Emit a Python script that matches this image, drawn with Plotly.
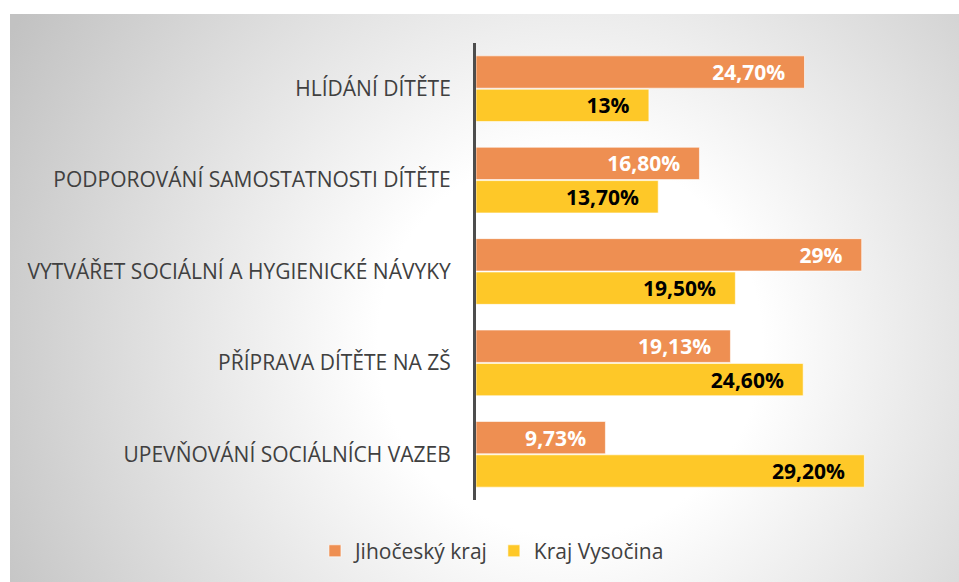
import base64
import plotly.graph_objects as go

categories = [
    "HLÍDÁNÍ DÍTĚTE",
    "PODPOROVÁNÍ SAMOSTATNOSTI DÍTĚTE",
    "VYTVÁŘET SOCIÁLNÍ A HYGIENICKÉ NÁVYKY",
    "PŘÍPRAVA DÍTĚTE NA ZŠ",
    "UPEVŇOVÁNÍ SOCIÁLNÍCH VAZEB",
]
jihocesky = [24.70, 16.80, 29.0, 19.13, 9.73]
vysocina = [13.0, 13.70, 19.50, 24.60, 29.20]
jihocesky_labels = ["24,70%", "16,80%", "29%", "19,13%", "9,73%"]
vysocina_labels = ["13%", "13,70%", "19,50%", "24,60%", "29,20%"]
series_names = ["Jihočeský kraj", "Kraj Vysočina"]

W, H = 959, 582
ML, MR, MT, MB = 476, 84, 43, 82
PW, PH = W - ML - MR, H - MT - MB

svg = f'''<svg xmlns="http://www.w3.org/2000/svg" width="{W-10}" height="{H-14}">
<defs><radialGradient id="g" gradientUnits="userSpaceOnUse" cx="560" cy="330" r="640">
<stop offset="0" stop-color="#ffffff"/><stop offset="0.3" stop-color="#ffffff"/>
<stop offset="1" stop-color="#c2c2c2"/></radialGradient></defs>
<rect width="100%" height="100%" fill="url(#g)"/></svg>'''
src = "data:image/svg+xml;base64," + base64.b64encode(svg.encode()).decode()

pad = "\u00a0\u00a0\u00a0"
fig = go.Figure()
fig.add_trace(go.Bar(
    y=categories, x=jihocesky, name=series_names[0], orientation="h",
    marker=dict(color="#EE8F52", line=dict(color="rgba(255,255,255,0.6)", width=1)),
    text=jihocesky_labels, texttemplate="%{text}" + pad,
    textposition="inside", insidetextanchor="end",
    textfont=dict(color="white", size=21, family="Open Sans", weight="bold"),
    cliponaxis=False,
))
fig.add_trace(go.Bar(
    y=categories, x=vysocina, name=series_names[1], orientation="h",
    marker=dict(color="#FEC828", line=dict(color="rgba(255,255,255,0.6)", width=1)),
    text=vysocina_labels, texttemplate="%{text}" + pad,
    textposition="inside", insidetextanchor="end",
    textfont=dict(color="black", size=21, family="Open Sans", weight="bold"),
    cliponaxis=False,
))

fig.add_layout_image(dict(
    source=src, xref="paper", yref="paper",
    x=(10 - ML) / PW, y=1 + (MT - 14) / PH,
    sizex=(W - 10) / PW, sizey=(H - 14) / PH,
    xanchor="left", yanchor="top", sizing="stretch", layer="below",
))

fig.update_layout(
    width=W, height=H,
    margin=dict(l=ML, r=MR, t=MT, b=MB),
    paper_bgcolor="white", plot_bgcolor="rgba(0,0,0,0)",
    barmode="group", bargap=0.27, bargroupgap=0.03,
    uniformtext=dict(minsize=21, mode="show"),
    font=dict(family="Open Sans", color="#404040", size=21),
    xaxis=dict(range=[0, 30], visible=False, showgrid=False, zeroline=False),
    yaxis=dict(autorange="reversed", showline=True, linecolor="#4d4d4d", linewidth=3,
               ticks="", ticklabelstandoff=18, tickfont=dict(size=21, color="#404040"),
               showgrid=False),
    legend=dict(orientation="h", xref="container", yref="container",
                x=0.513, y=0.053, xanchor="center", yanchor="middle",
                font=dict(size=21, color="#404040"), itemwidth=30,
                bgcolor="rgba(255,255,255,0)", traceorder="normal"),
    showlegend=True,
)

fig.write_html("out.html", config={"displayModeBar": False},
               post_script="document.body.style.margin='0';")
